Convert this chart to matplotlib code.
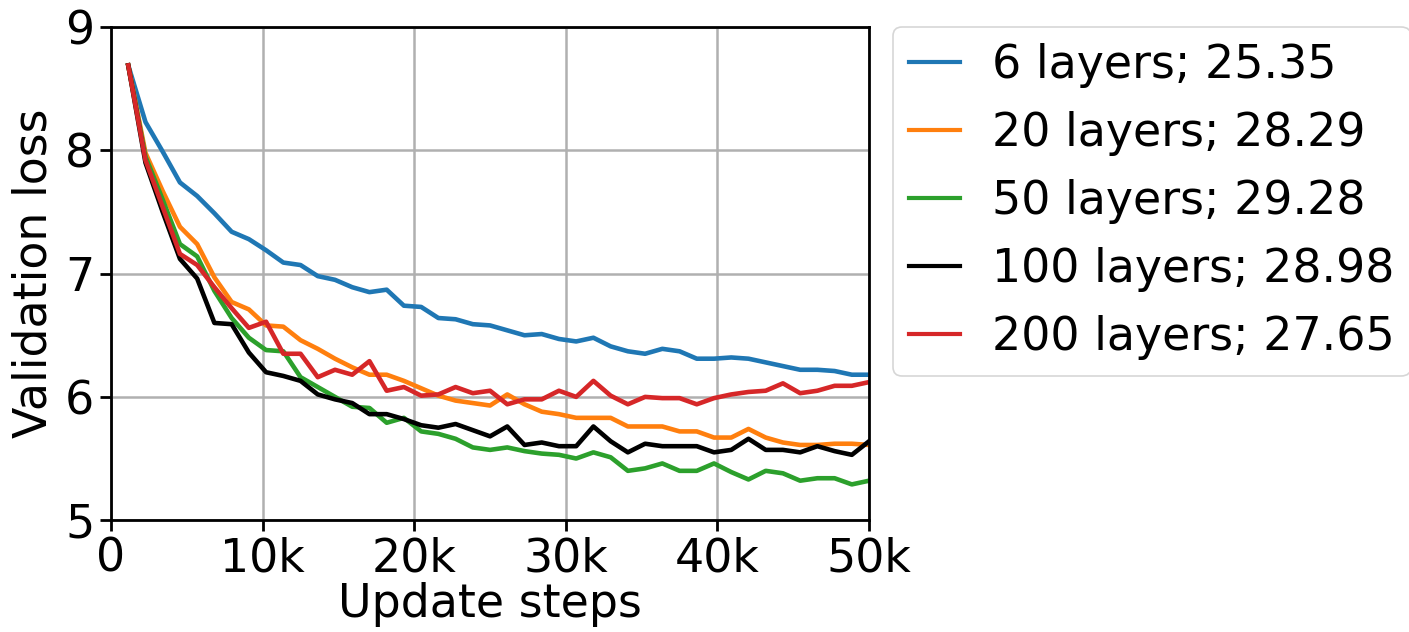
import numpy as np
import matplotlib
matplotlib.use("Agg")
import matplotlib.pyplot as plt

# evaluation points (update steps)
steps = [1136, 2273, 3409, 4545, 5682, 6818, 7955, 9091, 10227, 11364,
         12500, 13636, 14773, 15909, 17045, 18182, 19318, 20455, 21591, 22727,
         23864, 25000, 26136, 27273, 28409, 29545, 30682, 31818, 32955, 34091,
         35227, 36364, 37500, 38636, 39773, 40909, 42045, 43182, 44318, 45455,
         46591, 47727, 48864, 50000]

loss_6 = [8.69, 8.23, 7.99, 7.74, 7.63, 7.49, 7.34, 7.28, 7.19, 7.09,
          7.07, 6.98, 6.95, 6.89, 6.85, 6.87, 6.74, 6.73, 6.64, 6.63,
          6.59, 6.58, 6.54, 6.50, 6.51, 6.47, 6.45, 6.48, 6.41, 6.37,
          6.35, 6.39, 6.37, 6.31, 6.31, 6.32, 6.31, 6.28, 6.25, 6.22,
          6.22, 6.21, 6.18, 6.18]
loss_20 = [8.69, 7.98, 7.67, 7.38, 7.24, 6.97, 6.77, 6.71, 6.58, 6.57,
           6.46, 6.39, 6.31, 6.24, 6.18, 6.18, 6.13, 6.07, 6.01, 5.97,
           5.95, 5.93, 6.02, 5.94, 5.88, 5.86, 5.83, 5.83, 5.83, 5.76,
           5.76, 5.76, 5.72, 5.72, 5.67, 5.67, 5.74, 5.67, 5.63, 5.61,
           5.61, 5.62, 5.62, 5.61]
loss_50 = [8.69, 7.95, 7.60, 7.24, 7.14, 6.86, 6.64, 6.48, 6.38, 6.37,
           6.16, 6.08, 6.00, 5.92, 5.91, 5.79, 5.83, 5.72, 5.70, 5.66,
           5.59, 5.57, 5.59, 5.56, 5.54, 5.53, 5.50, 5.55, 5.51, 5.40,
           5.42, 5.46, 5.40, 5.40, 5.46, 5.39, 5.33, 5.40, 5.38, 5.32,
           5.34, 5.34, 5.29, 5.32]
loss_100 = [8.69, 7.90, 7.50, 7.12, 6.96, 6.60, 6.59, 6.36, 6.20, 6.17,
            6.13, 6.02, 5.98, 5.95, 5.86, 5.86, 5.82, 5.77, 5.75, 5.78,
            5.73, 5.68, 5.76, 5.61, 5.63, 5.60, 5.60, 5.76, 5.64, 5.55,
            5.62, 5.60, 5.60, 5.60, 5.55, 5.57, 5.66, 5.57, 5.57, 5.55,
            5.60, 5.56, 5.53, 5.64]
loss_200 = [8.69, 7.92, 7.54, 7.16, 7.07, 6.89, 6.72, 6.56, 6.61, 6.35,
            6.35, 6.16, 6.22, 6.18, 6.29, 6.05, 6.08, 6.01, 6.02, 6.08,
            6.03, 6.05, 5.94, 5.98, 5.98, 6.05, 6.00, 6.13, 6.01, 5.94,
            6.00, 5.99, 5.99, 5.94, 5.99, 6.02, 6.04, 6.05, 6.11, 6.03,
            6.05, 6.09, 6.09, 6.12]

labels = ["6 layers; 25.35", "20 layers; 28.29", "50 layers; 29.28",
          "100 layers; 28.98", "200 layers; 27.65"]
colors = ["#1f77b4", "#ff7f0e", "#2ca02c", "black", "#d62728"]
series = [loss_6, loss_20, loss_50, loss_100, loss_200]

xticks = [0, 10000, 20000, 30000, 40000, 50000]
xticklabels = ["0", "10k", "20k", "30k", "40k", "50k"]
yticks = [5, 6, 7, 8, 9]

fs = 33
fig = plt.figure(figsize=(14.09, 6.32), dpi=100)
ax = fig.add_axes([0.0788, 0.177, 0.538, 0.780])
for vals, lab, c in zip(series, labels, colors):
    ax.plot(steps, vals, color=c, lw=3.3, label=lab)

ax.set_xlim(0, 50000)
ax.set_ylim(5, 9)
ax.set_xticks(xticks)
ax.set_xticklabels(xticklabels)
ax.set_yticks(yticks)
ax.tick_params(labelsize=fs, width=2, length=8, pad=4)
ax.grid(color="#b0b0b0", lw=1.8)
ax.set_axisbelow(True)
for s in ax.spines.values():
    s.set_linewidth(2)
ax.set_xlabel("Update steps", fontsize=fs, labelpad=0)
ax.set_ylabel("Validation loss", fontsize=fs, labelpad=6)

leg = ax.legend(loc="upper left", bbox_to_anchor=(1.032, 1.0), borderaxespad=0,
                fontsize=fs, handlelength=1.1, handletextpad=0.7, labelspacing=0.5,
                borderpad=0.35)
leg.get_frame().set_linewidth(1.2)
for l in leg.get_lines():
    l.set_linewidth(3)

fig.savefig("out.png", dpi=100)
